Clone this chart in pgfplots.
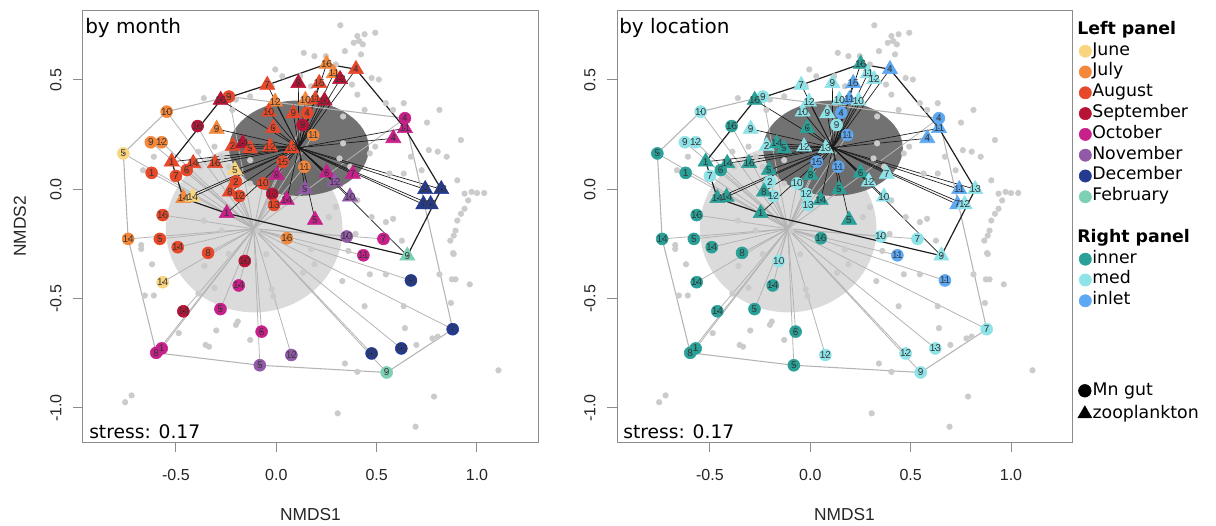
\documentclass[border=0pt]{standalone}
\usepackage{fontspec}
\setmainfont{DejaVu Sans}
\newfontfamily\arialf{Liberation Sans}
\usepackage{pgfplots}
\usepackage{pgfplotstable}
\pgfplotsset{compat=1.18}

\definecolor{cJun}{HTML}{F8D57E}
\definecolor{cJul}{HTML}{F4873A}
\definecolor{cAug}{HTML}{E8482A}
\definecolor{cSep}{HTML}{B81235}
\definecolor{cOct}{HTML}{C8208A}
\definecolor{cNov}{HTML}{9159A8}
\definecolor{cDec}{HTML}{233A8F}
\definecolor{cFeb}{HTML}{7DD0B4}
\definecolor{cinner}{HTML}{2AA198}
\definecolor{cmed}{HTML}{8EE3E8}
\definecolor{cinlet}{HTML}{5DA8F2}
\definecolor{bgdot}{HTML}{CBCBCB}
\definecolor{frame}{HTML}{8C8C8C}
\definecolor{spokegray}{HTML}{B4B4B4}

% zooplankton samples (triangles)
\pgfplotstableread{
x y lab mon loc
0.251 0.573 16 Jul inner
0.287 0.530 11 Jul med
0.318 0.503 12 Sep med
0.397 0.549 4 Aug inlet
-0.045 0.477 7 Aug med
0.110 0.485 9 Sep med
0.214 0.485 15 Aug inlet
-0.277 0.408 16 Sep inner
-0.006 0.400 12 Jul med
0.145 0.408 10 Jul med
0.194 0.411 11 Aug inlet
0.240 0.405 10 Sep med
-0.038 0.355 10 Aug med
0.085 0.347 9 Aug med
-0.297 0.276 9 Jul med
-0.015 0.279 6 Aug inner
-0.217 0.198 2 Aug med
-0.167 0.210 14 Sep inner
-0.131 0.187 5 Aug inner
-0.031 0.195 12 Aug med
0.077 0.187 13 Aug med
-0.521 0.126 1 Aug inner
-0.414 0.119 14 Aug inner
-0.305 0.119 16 Aug inner
-0.206 0.088 5 Jun inner
-0.231 -0.011 8 Aug inner
-0.463 -0.041 14 Jul inner
-0.417 -0.035 14 Jun inner
-0.247 -0.110 1 Oct inner
0.052 -0.049 14 Oct inner
0.002 0.065 8 Oct inner
0.143 0.000 5 Nov inner
0.193 -0.140 5 Oct inner
0.251 0.076 6 Oct inner
0.292 0.035 12 Nov med
0.381 0.070 7 Oct med
0.367 -0.034 10 Nov med
0.583 0.233 4 Oct inlet
0.641 0.279 11 Oct inlet
0.742 0.000 11 Dec inlet
0.822 0.000 13 Dec med
0.733 -0.069 7 Dec inlet
0.769 -0.069 12 Dec med
0.653 -0.304 9 Feb med
}\tri

% Mn gut samples (circles)
\pgfplotstableread{
x y lab mon loc
0.131 0.294 9 Sep med
0.154 0.350 4 Aug inlet
-0.236 0.424 9 Aug med
-0.392 0.289 16 Sep inner
0.184 0.248 11 Jul inlet
0.032 0.126 15 Aug inlet
0.140 0.103 11 Jul inlet
-0.500 0.061 7 Aug med
-0.446 0.088 6 Aug inner
-0.621 0.075 1 Aug inner
-0.201 0.035 2 Aug med
-0.184 -0.031 12 Aug med
-0.566 -0.118 16 Aug inner
-0.065 0.027 10 Aug med
-0.020 -0.021 12 Sep med
-0.011 -0.072 13 Aug med
-0.546 0.355 10 Jul med
-0.625 0.215 9 Jul med
-0.571 0.215 12 Jul med
-0.762 0.164 5 Jun inner
-0.738 -0.227 14 Jul inner
-0.580 -0.227 5 Aug inner
-0.491 -0.265 14 Aug inner
-0.340 -0.291 8 Aug inner
0.053 -0.224 16 Jul inner
0.351 -0.216 10 Nov med
0.534 -0.227 7 Oct med
0.434 -0.302 11 Oct inlet
-0.157 -0.328 10 Sep med
-0.566 -0.425 14 Jun inner
-0.187 -0.440 14 Oct inner
0.671 -0.417 11 Dec inlet
-0.463 -0.558 14 Sep inner
-0.278 -0.548 5 Oct inner
-0.073 -0.651 6 Oct inner
0.879 -0.640 7 Dec med
-0.598 -0.748 8 Oct inner
-0.571 -0.728 1 Oct inner
0.075 -0.758 12 Nov med
0.475 -0.751 12 Dec med
0.623 -0.728 13 Dec med
-0.082 -0.805 5 Nov inner
0.550 -0.838 9 Feb med
0.641 0.325 4 Oct inlet
}\cir

% species / other samples (grey dots)
\pgfplotstableread{
x y
0.319 0.750
0.404 0.701
0.440 0.709
0.493 0.716
0.386 0.670
0.413 0.678
0.431 0.663
0.137 0.624
0.190 0.609
0.247 0.609
0.342 0.632
0.297 0.571
0.422 0.617
0.030 0.517
-0.005 0.548
0.119 0.517
0.377 0.479
0.475 0.509
0.511 0.502
0.404 0.433
0.546 0.394
0.813 0.363
0.751 0.305
0.635 0.394
0.582 0.363
0.440 0.363
0.333 0.333
0.173 0.471
-0.023 0.471
-0.130 0.425
-0.201 0.410
-0.361 0.417
-0.219 0.363
0.920 0.225
0.902 0.041
0.938 -0.020
0.973 -0.012
1.000 -0.017
1.036 -0.017
0.956 -0.051
0.938 -0.089
0.920 -0.112
0.902 -0.143
0.893 -0.189
0.884 -0.212
0.867 -0.235
0.849 0.149
0.804 0.172
0.760 0.179
0.724 0.087
0.635 0.072
0.564 0.072
0.493 0.195
0.466 0.164
0.368 0.103
0.333 0.210
0.404 -0.051
0.582 -0.135
0.546 -0.150
0.475 -0.127
0.297 -0.081
0.262 -0.127
0.395 -0.204
-0.094 -0.189
-0.237 -0.296
-0.272 -0.189
-0.361 -0.143
-0.673 -0.273
-0.664 0.087
-0.610 0.149
-0.388 0.172
-0.308 0.195
-0.272 0.149
-0.379 0.103
-0.237 0.103
-0.130 0.133
-0.130 0.026
0.315 0.141
0.671 0.149
0.884 -0.296
0.626 -0.235
0.546 -0.219
-0.673 -0.255
-0.619 -0.343
-0.655 -0.486
-0.610 -0.486
-0.486 -0.658
-0.388 -0.477
-0.358 -0.351
-0.299 -0.646
-0.352 -0.712
-0.335 -0.720
-0.201 -0.620
-0.192 -0.605
-0.050 -0.297
-0.023 -0.458
-0.014 -0.489
-0.130 -0.689
0.133 -0.382
0.190 -0.343
0.329 -0.420
0.342 -0.797
0.404 -0.835
0.466 -0.389
0.546 -0.389
0.635 -0.535
0.641 -0.635
0.698 -0.712
0.778 -0.682
0.804 -0.674
0.813 -0.389
0.875 -0.412
0.893 -0.412
0.964 -0.435
0.870 -0.520
0.881 -0.292
0.786 -0.948
0.694 -1.086
0.306 -1.025
1.107 -0.828
-0.753 -0.974
-0.721 -0.943
0.440 -0.535
0.359 -0.282
0.173 -0.274
-0.308 -0.451
}\bg

\tikzset{
  darkell/.style={fill=black!65, fill opacity=0.85},
  lightell/.style={fill=black!22, fill opacity=0.65},
}

\pgfplotsset{
  nmds/.style={
    scale only axis, width=341.25pt, height=323.5pt, anchor=south west,
    xmin=-0.963, xmax=1.304, ymin=-1.156, ymax=0.817,
    axis line style={frame, line width=0.75pt},
    tick pos=left, tick align=outside, major tick length=7.5pt,
    tick style={frame, line width=0.75pt},
    xtick={-0.5,0,0.5,1}, xticklabels={-0.5,0.0,0.5,1.0},
    ytick={-1,-0.5,0,0.5}, yticklabels={-1.0,-0.5,0.0,0.5},
    ticklabel style={font=\arialf\fontsize{12}{14}\selectfont, text=black!85},
    xticklabel shift=9.5pt,
    yticklabel style={rotate=90, anchor=south},
    yticklabel shift=5pt,
    xlabel={NMDS1},
    xlabel style={font=\arialf\fontsize{13}{15}\selectfont, text=black!85,
      at={(axis description cs:0.5,-0.169)}, anchor=center},
    clip=false,
    legend image code/.code={\draw[#1] plot coordinates {(4pt,0pt)};},
  },
  bgpts/.style={only marks, mark=*, mark size=2.1pt, draw=bgdot, fill=bgdot},
  spokeT/.style={black!90, line width=0.5pt, quiver={u=\thisrow{x}-0.112, v=\thisrow{y}-0.190}},
  spokeC/.style={spokegray, line width=0.6pt, quiver={u=\thisrow{x}+0.112, v=\thisrow{y}+0.181}},
  mkr/.style={scatter, only marks, point meta=explicit symbolic},
  lbl/.style={only marks, mark=*, mark size=0.1pt, mark options={draw=none, fill=none},
    point meta=explicit symbolic, nodes near coords,
    every node near coord/.append style={anchor=center, inner sep=0pt,
      font=\arialf\fontsize{7.5}{7.5}\selectfont, text=black!78}},
  monthcls/.style={scatter/classes={
    Jun={mark=#1,draw=cJun,fill=cJun}, Jul={mark=#1,draw=cJul,fill=cJul},
    Aug={mark=#1,draw=cAug,fill=cAug}, Sep={mark=#1,draw=cSep,fill=cSep},
    Oct={mark=#1,draw=cOct,fill=cOct}, Nov={mark=#1,draw=cNov,fill=cNov},
    Dec={mark=#1,draw=cDec,fill=cDec}, Feb={mark=#1,draw=cFeb,fill=cFeb}}},
  loccls/.style={scatter/classes={
    inner={mark=#1,draw=cinner,fill=cinner}, med={mark=#1,draw=cmed,fill=cmed},
    inlet={mark=#1,draw=cinlet,fill=cinlet}}},
  hullT/.style={black!88, line width=0.9pt},
  hullC/.style={spokegray, line width=0.8pt},
}

\newcommand{\hullTpts}{(-0.277,0.408) (-0.045,0.477) (0.251,0.573) (0.397,0.549) (0.641,0.279) (0.822,0.000) (0.653,-0.304) (-0.247,-0.110) (-0.463,-0.041) (-0.521,0.126) (-0.277,0.408)}
\newcommand{\hullCpts}{(-0.762,0.164) (-0.546,0.355) (-0.236,0.424) (0.641,0.325) (0.879,-0.640) (0.550,-0.838) (-0.082,-0.805) (-0.598,-0.748) (-0.738,-0.227) (-0.762,0.164)}

\begin{document}
\begin{tikzpicture}
\useasboundingbox (0,0) rectangle (912pt,393.75pt);

% ---------------- left panel: by month
\begin{axis}[nmds, at={(62.25pt,62.25pt)},
  ylabel={NMDS2},
  ylabel style={font=\arialf\fontsize{13}{15}\selectfont, text=black!85,
    at={(axis description cs:-0.1385,0.5)}, anchor=center},
  legend style={draw=none, fill=none, inner sep=0pt,
    at={(axis description cs:2.186,0.146)}, anchor=north west,
    font=\fontsize{13}{15}\selectfont, cells={anchor=west},
    nodes={inner sep=0.6pt, text height=11.5pt, text depth=4.55pt}, row sep=0pt},
]
\addlegendimage{mark=*, mark size=4.75pt, draw=black, fill=black}
\addlegendentry{Mn gut}
\addlegendimage{mark=triangle*, mark size=6pt, draw=black, fill=black}
\addlegendentry{zooplankton}

\addplot[bgpts, forget plot] table {\bg};
\fill[lightell] (axis cs:-0.110,-0.181) ellipse [x radius=0.440, y radius=0.382];
\fill[darkell] (axis cs:0.113,0.188) ellipse [x radius=0.348, y radius=0.218];
\addplot[spokeC, forget plot] table[x expr=-0.112, y expr=-0.181] {\cir};
\addplot[spokeT, forget plot] table[x expr=0.112, y expr=0.190] {\tri};
\addplot[hullC, forget plot] coordinates {\hullCpts};
\addplot[hullT, forget plot] coordinates {\hullTpts};
\addplot[mkr, monthcls=*, mark size=4.5pt, forget plot] table[meta=mon] {\cir};
\addplot[mkr, monthcls=triangle*, mark size=6.6pt, forget plot] table[meta=mon] {\tri};
\addplot[lbl, forget plot] table[meta=lab] {\cir};
\addplot[lbl, forget plot] table[meta=lab] {\tri};

\node[anchor=base west, inner sep=0pt, font=\fontsize{15}{18}\selectfont]
  at ([xshift=1.5pt,yshift=-17pt]rel axis cs:0,1) {by month};
\node[anchor=base west, inner sep=0pt, font=\fontsize{14}{16}\selectfont]
  at ([xshift=4.5pt,yshift=2.8pt]rel axis cs:0,0) {stress: 0.17};
\end{axis}

% ---------------- right panel: by location
\begin{axis}[nmds, at={(462.75pt,62.25pt)},
  legend style={draw=none, fill=none, inner sep=0pt,
    at={(axis description cs:1.0152,0.979)}, anchor=north west,
    font=\fontsize{13}{15}\selectfont, cells={anchor=west},
    nodes={inner sep=0.6pt, text height=10.2pt, text depth=4.2pt}, row sep=0pt},
]
\addlegendimage{empty legend}
\addlegendentry{\hspace*{-11.2pt}\textbf{Left panel}}
\addlegendimage{mark=*, mark size=4.6pt, draw=cJun, fill=cJun}
\addlegendentry{June}
\addlegendimage{mark=*, mark size=4.6pt, draw=cJul, fill=cJul}
\addlegendentry{July}
\addlegendimage{mark=*, mark size=4.6pt, draw=cAug, fill=cAug}
\addlegendentry{August}
\addlegendimage{mark=*, mark size=4.6pt, draw=cSep, fill=cSep}
\addlegendentry{September}
\addlegendimage{mark=*, mark size=4.6pt, draw=cOct, fill=cOct}
\addlegendentry{October}
\addlegendimage{mark=*, mark size=4.6pt, draw=cNov, fill=cNov}
\addlegendentry{November}
\addlegendimage{mark=*, mark size=4.6pt, draw=cDec, fill=cDec}
\addlegendentry{December}
\addlegendimage{mark=*, mark size=4.6pt, draw=cFeb, fill=cFeb}
\addlegendentry{February}
\addlegendimage{empty legend}
\addlegendentry{}
\addlegendimage{empty legend}
\addlegendentry{\hspace*{-11.2pt}\textbf{Right panel}}
\addlegendimage{mark=*, mark size=4.6pt, draw=cinner, fill=cinner}
\addlegendentry{inner}
\addlegendimage{mark=*, mark size=4.6pt, draw=cmed, fill=cmed}
\addlegendentry{med}
\addlegendimage{mark=*, mark size=4.6pt, draw=cinlet, fill=cinlet}
\addlegendentry{inlet}

\addplot[bgpts, forget plot] table {\bg};
\fill[lightell] (axis cs:-0.110,-0.181) ellipse [x radius=0.440, y radius=0.382];
\fill[darkell] (axis cs:0.113,0.188) ellipse [x radius=0.348, y radius=0.218];
\addplot[spokeC, forget plot] table[x expr=-0.112, y expr=-0.181] {\cir};
\addplot[spokeT, forget plot] table[x expr=0.112, y expr=0.190] {\tri};
\addplot[hullC, forget plot] coordinates {\hullCpts};
\addplot[hullT, forget plot] coordinates {\hullTpts};
\addplot[mkr, loccls=*, mark size=4.5pt, forget plot] table[meta=loc] {\cir};
\addplot[mkr, loccls=triangle*, mark size=6.6pt, forget plot] table[meta=loc] {\tri};
\addplot[lbl, forget plot] table[meta=lab] {\cir};
\addplot[lbl, forget plot] table[meta=lab] {\tri};

\node[anchor=base west, inner sep=0pt, font=\fontsize{15}{18}\selectfont]
  at ([xshift=1.5pt,yshift=-17pt]rel axis cs:0,1) {by location};
\node[anchor=base west, inner sep=0pt, font=\fontsize{14}{16}\selectfont]
  at ([xshift=4.5pt,yshift=2.8pt]rel axis cs:0,0) {stress: 0.17};
\end{axis}
\end{tikzpicture}
\end{document}
